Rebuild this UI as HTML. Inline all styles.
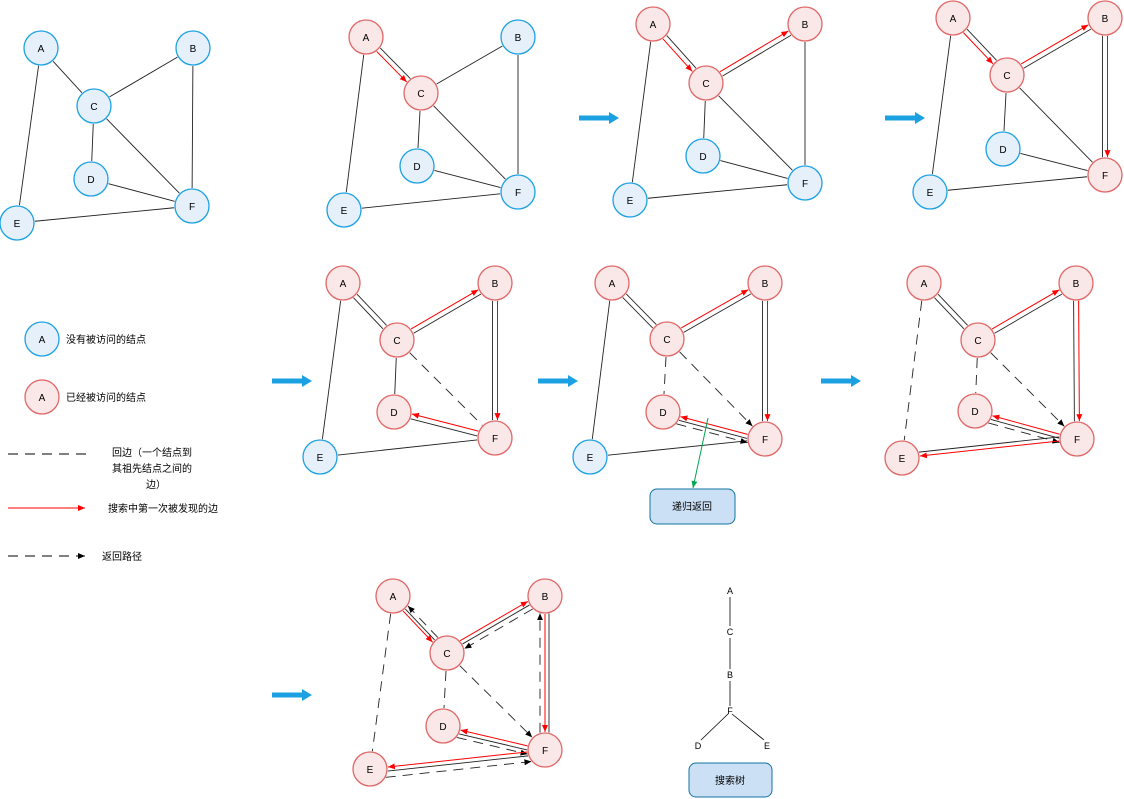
<!DOCTYPE html>
<html><head><meta charset="utf-8"><style>
body{margin:0;background:#fff;}
svg{display:block;font-family:"Liberation Sans","Noto Sans CJK SC",sans-serif;}
</style></head><body>
<svg id="s" width="1124" height="799" viewBox="0 0 1124 799">
<defs>
<marker id="mr" markerWidth="8" markerHeight="8" refX="7" refY="4" orient="auto" markerUnits="userSpaceOnUse"><path d="M0,1 L7,4 L0,7 Z" fill="#f00"/></marker>
<marker id="mk" markerWidth="8" markerHeight="8" refX="7" refY="4" orient="auto" markerUnits="userSpaceOnUse"><path d="M0,1 L7,4 L0,7 Z" fill="#000"/></marker>
<marker id="mg" markerWidth="8" markerHeight="8" refX="7" refY="4" orient="auto" markerUnits="userSpaceOnUse"><path d="M0,1 L7,4 L0,7 Z" fill="#00a650"/></marker>
<marker id="mb" markerWidth="10" markerHeight="12" refX="2" refY="6" orient="auto" markerUnits="userSpaceOnUse"><path d="M0,0 L10,6 L0,12 Z" fill="#1ba1e2"/></marker>
</defs>
<g id="g"></g>
<circle cx="42" cy="339" r="17" fill="#e6f0fa" stroke="#1ba1e2" stroke-width="1.3"/>
<text x="42" y="343" font-size="10" text-anchor="middle">A</text>
<text x="66" y="343" font-size="10">没有被访问的结点</text>
<circle cx="42" cy="397" r="17" fill="#fae8e8" stroke="#e06666" stroke-width="1.3"/>
<text x="42" y="401" font-size="10" text-anchor="middle">A</text>
<text x="66" y="401" font-size="10">已经被访问的结点</text>
<line x1="8" y1="454" x2="90" y2="454" stroke="#000" stroke-dasharray="10,7"/>
<text font-size="10"><tspan x="112" y="456">回边（一个结点到</tspan><tspan x="112" y="472">其祖先结点之间的</tspan><tspan x="146" y="488">边）</tspan></text>
<line x1="8" y1="508" x2="85" y2="508" stroke="#f00" marker-end="url(#mr)"/>
<text x="108" y="512" font-size="10">搜索中第一次被发现的边</text>
<line x1="8" y1="556" x2="85" y2="556" stroke="#000" stroke-dasharray="10,7" marker-end="url(#mk)"/>
<text x="102" y="560" font-size="10">返回路径</text>
<line x1="708" y1="418" x2="693" y2="488" stroke="#00a650" marker-end="url(#mg)"/>
<rect x="650" y="489" width="85" height="35" rx="7" fill="#cce0f5" stroke="#10739e"/>
<text x="692" y="510" font-size="10" text-anchor="middle">递归返回</text>
<g stroke="#000" stroke-width="0.8">
<line x1="730" y1="597" x2="730" y2="626"/><line x1="730" y1="638" x2="730" y2="669"/><line x1="730" y1="681" x2="730" y2="706"/>
<line x1="728" y1="714" x2="701" y2="740"/><line x1="732" y1="714" x2="764" y2="740"/>
</g>
<g font-size="9" text-anchor="middle">
<text x="730" y="594">A</text><text x="730" y="635">C</text><text x="730" y="678">B</text><text x="730" y="714">F</text><text x="698" y="749">D</text><text x="767" y="749">E</text>
</g>
<rect x="689" y="763" width="83" height="34" rx="7" fill="#cce0f5" stroke="#10739e"/>
<text x="730" y="784" font-size="10" text-anchor="middle">搜索树</text>
</svg>
<script>
const NS='http://www.w3.org/2000/svg';
const g=document.getElementById('g');
const panels=[
 {n:{A:[41,48],B:[193,48],C:[94,106],D:[91,179],E:[17,223],F:[192,206]},red:'',e:[]},
 {n:{A:[366,37],B:[518,37],C:[421,93],D:[417,166],E:[344,210],F:[518,192]},red:'AC',e:[['A','C',[[-2.5,'s'],[2.5,'r']]]]},
 {n:{A:[653,24],B:[805,24],C:[706,83],D:[703,156],E:[630,200],F:[805,183]},red:'ACB',e:[['A','C',[[-2.5,'s'],[2.5,'r']]],['C','B',[[-2.5,'r'],[2.5,'s']]]]},
 {n:{A:[953,18],B:[1105,18],C:[1007,75],D:[1003,149],E:[930,192],F:[1105,175]},red:'ACBF',e:[['A','C',[[-2.5,'s'],[2.5,'r']]],['C','B',[[-2.5,'r'],[2.5,'s']]],['B','F',[[-2.5,'r'],[2.5,'s']]]]},
 {n:{A:[343,283],B:[495,283],C:[397,340],D:[394,412],E:[320,457],F:[495,438]},red:'ACBFD',e:[['A','C',[[-2.5,'s'],[2.5,'s']]],['C','B',[[-2.5,'r'],[2.5,'s']]],['B','F',[[-2.5,'r'],[2.5,'s']]],['C','F',[[0,'d']]],['F','D',[[-2.5,'s'],[2.5,'r']]]]},
 {n:{A:[612,283],B:[765,283],C:[667,339],D:[663,412],E:[590,457],F:[765,439]},red:'ACBFD',e:[['A','C',[[-2.5,'s'],[2.5,'s']]],['C','B',[[-2.5,'r'],[2.5,'s']]],['B','F',[[-2.5,'r'],[2.5,'s']]],['C','F',[[0,'da']]],['C','D',[[0,'d']]],['F','D',[[-4,'s'],[0,'r'],[-8,'da-rev']]]]},
 {n:{A:[924,283],B:[1076,283],C:[978,340],D:[975,411],E:[902,458],F:[1077,439]},red:'ACBFDE',e:[['A','C',[[-2.5,'s'],[2.5,'s']]],['C','B',[[-2.5,'r'],[2.5,'s']]],['B','F',[[-2.5,'r'],[2.5,'s']]],['C','F',[[0,'da']]],['C','D',[[0,'d']]],['A','E',[[0,'d']]],['F','D',[[-4,'s'],[0,'r'],[-8,'da-rev']]],['F','E',[[0,'r'],[4,'s']]]]},
 {n:{A:[393,596],B:[545,596],C:[447,653],D:[443,726],E:[370,769],F:[545,750]},red:'ACBFDE',e:[['A','C',[[3,'r'],[0,'s'],[-4,'da-rev']]],['C','B',[[-4,'r'],[0,'s'],[5,'da-rev']]],['B','F',[[-4,'s'],[0,'r'],[5,'da-rev']]],['C','F',[[0,'da']]],['C','D',[[0,'d']]],['A','E',[[0,'d']]],['F','D',[[-4,'s'],[0,'r'],[-8,'da-rev']]],['F','E',[[0,'r'],[-4,'s'],[-10,'da-rev']]]]}
];
const base=[['A','C'],['C','B'],['B','F'],['C','D'],['C','F'],['D','F'],['A','E'],['E','F']];
function line(p,q,style){
 const l=document.createElementNS(NS,'line');
 
 
 let [a,b]=style==='da-rev'?[q,p]:[p,q];
 l.setAttribute('x1',a[0]);l.setAttribute('y1',a[1]);l.setAttribute('x2',b[0]);l.setAttribute('y2',b[1]);
 l.setAttribute('stroke',style==='r'?'#f00':'#222');
 l.setAttribute('stroke-width',style==='r'?'1':'0.9');
 if(style[0]==='d')l.setAttribute('stroke-dasharray','10,7');
 if(style==='r')l.setAttribute('marker-end','url(#mr)');
 if(style==='da'||style==='da-rev')l.setAttribute('marker-end','url(#mk)');
 g.appendChild(l);
}
function edge(P,a,b,specs){
 const p=P.n[a],q=P.n[b];
 const dx=q[0]-p[0],dy=q[1]-p[1],L=Math.hypot(dx,dy),ux=dx/L,uy=dy/L,nx=-uy,ny=ux;
 specs.forEach(([o,st])=>{
  const r=Math.sqrt(Math.max(0,17*17-o*o))+1;
  line([p[0]+ux*r+nx*o,p[1]+uy*r+ny*o],[q[0]-ux*r+nx*o,q[1]-uy*r+ny*o],st);
 });
}
panels.forEach((P,i)=>{
 base.forEach(([a,b])=>{
  const has=P.e.some(e=>(e[0]===a&&e[1]===b)||(e[0]===b&&e[1]===a));
  if(!has)edge(P,a,b,[[0,'s']]);
 });
 P.e.forEach(e=>edge(P,e[0],e[1],e[2]));
 Object.entries(P.n).forEach(([k,[x,y]])=>{
  const red=P.red.includes(k);
  const c=document.createElementNS(NS,'circle');
  
  
  c.setAttribute('cx',x);c.setAttribute('cy',y);c.setAttribute('r',17);
  c.setAttribute('fill',red?'#fae8e8':'#e6f0fa');c.setAttribute('stroke',red?'#e06666':'#1ba1e2');c.setAttribute('stroke-width','1.3');
  g.appendChild(c);
  const t=document.createElementNS(NS,'text');
  
  
  t.setAttribute('x',x);t.setAttribute('y',y+4);t.setAttribute('font-size','10');t.setAttribute('text-anchor','middle');
  t.textContent=k;g.appendChild(t);
 });
});
[[579,118],[885,118],[272,381],[538,381],[821,381],[272,695]].forEach(([x,y])=>{
 const l=document.createElementNS(NS,'line');
 
 
 l.setAttribute('x1',x);l.setAttribute('y1',y);l.setAttribute('x2',x+32);l.setAttribute('y2',y);
 l.setAttribute('stroke','#1ba1e2');l.setAttribute('stroke-width','5');l.setAttribute('marker-end','url(#mb)');
 g.appendChild(l);
});
</script>
</body></html>
